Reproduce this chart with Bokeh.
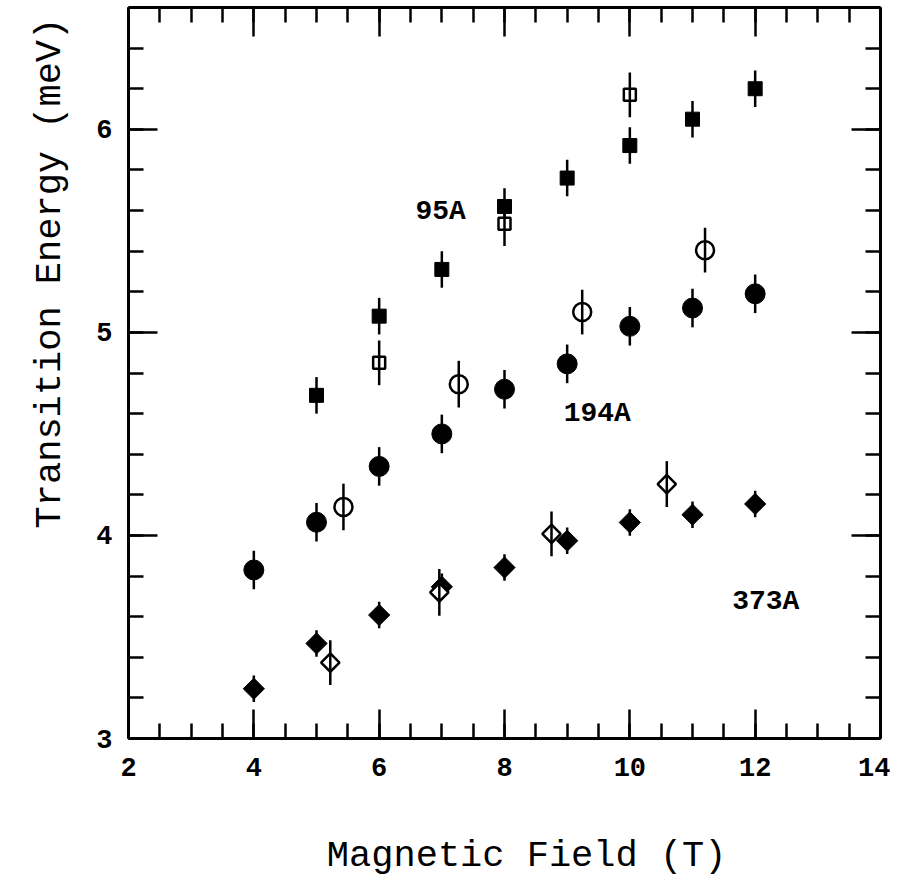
import math
from bokeh.plotting import figure
from bokeh.models import Range1d, LinearAxis, FixedTicker, Label
from bokeh.embed import file_html
from bokeh.resources import INLINE

# ---- data ----
# 95A (filled squares)
sq_x = [5, 6, 7, 8, 9, 10, 11, 12]
sq_y = [4.69, 5.08, 5.31, 5.62, 5.76, 5.92, 6.05, 6.20]
sq_err = [0.09] * 8
# 95A (open squares)
osq_x = [6, 8, 10]
osq_y = [4.85, 5.535, 6.17]
osq_err = [0.11, 0.11, 0.11]
# 194A (filled circles)
ci_x = [4, 5, 6, 7, 8, 9, 10, 11, 12]
ci_y = [3.83, 4.065, 4.34, 4.50, 4.72, 4.845, 5.03, 5.12, 5.19]
ci_err = [0.095] * 9
# 194A (open circles)
oci_x = [5.43, 7.27, 9.24, 11.2]
oci_y = [4.14, 4.745, 5.10, 5.405]
oci_err = [0.115, 0.115, 0.11, 0.11]
# 373A (filled diamonds)
di_x = [4, 5, 6, 7, 8, 9, 10, 11, 12]
di_y = [3.245, 3.468, 3.608, 3.747, 3.842, 3.974, 4.064, 4.102, 4.155]
di_err = [0.065] * 9
# 373A (open diamonds)
odi_x = [5.22, 6.96, 8.75, 10.59]
odi_y = [3.374, 3.72, 4.008, 4.253]
odi_err = [0.11, 0.115, 0.11, 0.113]

labels = ["95A", "194A", "373A"]
label_x = [6.98, 9.48, 12.17]
label_y = [5.595, 4.60, 3.673]

x_major = [2, 4, 6, 8, 10, 12, 14]
x_minor = [v / 2 for v in range(4, 29)]
y_major = [3, 4, 5, 6]
y_minor = [round(3 + 0.2 * i, 1) for i in range(0, 19)]

MONO = "Liberation Mono"
NB = "\u00a0"

p = figure(frame_width=752, frame_height=731,
           x_range=Range1d(2, 14), y_range=Range1d(3, 6.6),
           output_backend="svg", toolbar_location=None,
           min_border_left=128, min_border_right=10, min_border_top=7,
           min_border_bottom=20,
           x_axis_label=NB * 2 + "Magnetic Field (T)",
           y_axis_label=NB * 9 + "Transition Energy (meV)")
p.grid.visible = False
p.outline_line_color = None
p.background_fill_color = "white"
p.border_fill_color = "white"

def style_axis(ax, ticks, minors, show_labels):
    ax.ticker = FixedTicker(ticks=ticks, minor_ticks=minors)
    ax.axis_line_width = 3
    ax.axis_line_color = "black"
    ax.major_tick_in = 29
    ax.major_tick_out = 0
    ax.minor_tick_in = 15
    ax.minor_tick_out = 0
    ax.major_tick_line_width = 2.5
    ax.minor_tick_line_width = 2.5
    ax.major_tick_line_color = "black"
    ax.minor_tick_line_color = "black"
    if show_labels:
        ax.major_label_text_font = MONO
        ax.major_label_text_font_style = "bold"
        ax.major_label_text_font_size = "27px"
        ax.major_label_text_color = "black"
        ax.axis_label_text_font = MONO
        ax.axis_label_text_font_style = "normal"
        ax.axis_label_text_font_size = "37px"
        ax.axis_label_text_color = "black"
    else:
        ax.major_label_text_font_size = "1px"
        ax.major_label_text_color = None
        ax.major_label_standoff = 0

style_axis(p.xaxis[0], x_major, x_minor, True)
style_axis(p.yaxis[0], y_major, y_minor, True)
p.xaxis[0].major_label_standoff = 19
p.xaxis[0].axis_label_standoff = 56
p.yaxis[0].major_label_standoff = 16
p.yaxis[0].axis_label_standoff = 22

top = LinearAxis()
style_axis(top, x_major, x_minor, False)
p.add_layout(top, "above")
right = LinearAxis()
style_axis(right, y_major, y_minor, False)
p.add_layout(right, "right")

def errbars(xs, ys, es):
    p.segment(x0=xs, y0=[y - e for y, e in zip(ys, es)],
              x1=xs, y1=[y + e for y, e in zip(ys, es)],
              line_color="black", line_width=2.5)

# filled squares
errbars(sq_x, sq_y, sq_err)
p.scatter(sq_x, sq_y, marker="square", size=14, fill_color="black", line_color="black")
# open squares
p.scatter(osq_x, osq_y, marker="square", size=12, fill_color="white", line_color="black", line_width=2.5)
errbars(osq_x, osq_y, osq_err)
# filled circles
errbars(ci_x, ci_y, ci_err)
p.scatter(ci_x, ci_y, marker="circle", size=20, fill_color="black", line_color="black")
# open circles
p.scatter(oci_x, oci_y, marker="circle", size=18, fill_color="white", line_color="black", line_width=2.5)
errbars(oci_x, oci_y, oci_err)
# filled diamonds
errbars(di_x, di_y, di_err)
p.scatter(di_x, di_y, marker="square", angle=math.pi / 4, size=15, fill_color="black", line_color="black")
# open diamonds
p.scatter(odi_x, odi_y, marker="square", angle=math.pi / 4, size=13, fill_color="white", line_color="black", line_width=2.5)
errbars(odi_x, odi_y, odi_err)

for t, lx, ly in zip(labels, label_x, label_y):
    p.add_layout(Label(x=lx, y=ly, text=t, text_font=MONO, text_font_style="bold",
                       text_font_size="28px", text_align="center", text_baseline="middle",
                       text_color="black"))

open("out.html", "w").write(file_html(p, INLINE))
